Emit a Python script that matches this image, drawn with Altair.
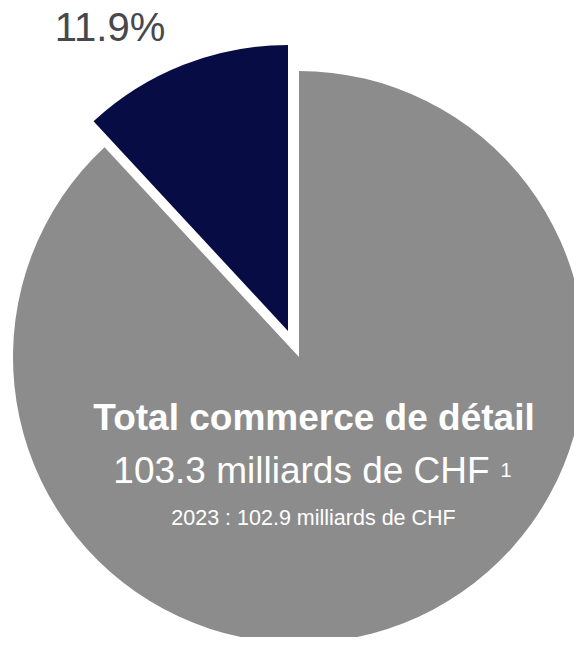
import altair as alt
import pandas as pd

segments = ["Reste du commerce de détail", "Part"]
shares = [88.1, 11.9]
colors = ["#8c8c8c", "#080c45"]
lines = ["Total commerce de détail", "103.3 milliards de CHF", "2023 : 102.9 milliards de CHF"]
footnote = "1"

FONT = "Liberation Sans"

df = pd.DataFrame({"segment": segments, "share": shares, "order": list(range(len(segments)))})

base = alt.Chart(df).transform_window(
    end="sum(share)", sort=[alt.SortField("order")], frame=[None, 0]
).transform_calculate(start="datum.end - datum.share")

theta_scale = alt.Scale(domain=[0, 100], range=[0, 6.283185307179586])
color_scale = alt.Scale(domain=segments, range=colors)


def slice_layer(seg, cx, cy):
    return base.transform_filter(alt.datum.segment == seg).mark_arc(radius=286).encode(
        theta=alt.Theta("start:Q", scale=theta_scale),
        theta2="end:Q",
        color=alt.Color("segment:N", scale=color_scale, legend=None),
        x=alt.value(cx),
        y=alt.value(cy),
    )


gray = slice_layer(segments[0], 291, 349)
navy = slice_layer(segments[1], 280, 323)

pct = base.transform_filter(alt.datum.segment == segments[1]).transform_calculate(
    label="format(datum.share, '.1f') + '%'"
).mark_text(fontSize=40, font=FONT, color="#46484c", baseline="alphabetic").encode(
    text="label:N", x=alt.value(102), y=alt.value(33)
)


def text_layer(t, x, y, size, weight="normal", align="center"):
    return alt.Chart(pd.DataFrame({"t": [t]})).mark_text(
        fontSize=size, font=FONT, fontWeight=weight, color="white",
        baseline="alphabetic", align=align
    ).encode(text="t:N", x=alt.value(x), y=alt.value(y))


t1 = text_layer(lines[0], 306, 422, 37, "bold")
t2 = text_layer(lines[1], 293.5, 475, 37)
t3 = text_layer(lines[2], 305.5, 517, 21.5)
t4 = text_layer(footnote, 498, 469, 20)

chart = alt.layer(gray, navy, pct, t1, t2, t3, t4).properties(
    width=566, height=629, padding=0, autosize=alt.AutoSizeParams(type="none")
).configure_view(stroke=None)

chart.save("out.html", embed_options={"renderer": "svg", "actions": False})
